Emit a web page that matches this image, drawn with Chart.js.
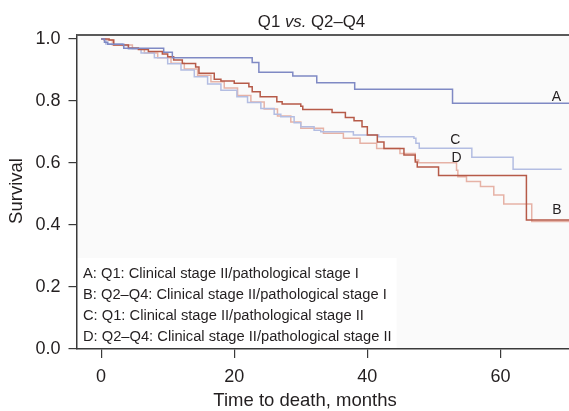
<!DOCTYPE html>
<html lang="en">
<head>
    <meta charset="UTF-8">
    <title>Q1 vs. Q2-Q4 survival</title>
    <script src="https://cdn.jsdelivr.net/npm/chart.js"></script>
    <style>
        body { margin: 0; background: #fff; }
        #wrap { width: 569px; height: 411px; position: relative; }
    </style>
</head>
<body>
    <div id="wrap"><canvas id="kmChart"></canvas></div>
    <script>
        // Kaplan-Meier steps: time (months) and survival after the drop
        const aTime = [0, 0.5, 1, 3.4, 9.4, 10.7, 22.7, 23.7, 28.8, 32.4, 38.1, 52.8, 70.3];
        const aSurv = [1.0, 0.99, 0.983, 0.97, 0.957, 0.94, 0.924, 0.893, 0.881, 0.859, 0.838, 0.793, 0.793];

        const bTime = [0, 1.2, 1.9, 4.1, 5.6, 7.1, 9.2, 10.0, 10.9, 12.2, 14.2, 14.7, 17.0, 18.0, 20.0, 22.2, 22.7, 23.9, 26.4, 27.2, 30.0, 30.3, 34.7, 36.7, 38.0, 39.2, 40.0, 41.5, 42.5, 45.5, 47.2, 47.5, 50.7, 63.9, 70.3];
        const bSurv = [1.0, 0.997, 0.981, 0.971, 0.966, 0.96, 0.952, 0.943, 0.932, 0.921, 0.91, 0.89, 0.87, 0.865, 0.857, 0.846, 0.83, 0.814, 0.798, 0.79, 0.783, 0.773, 0.763, 0.747, 0.736, 0.717, 0.69, 0.668, 0.647, 0.626, 0.603, 0.587, 0.56, 0.416, 0.416];

        const cTime = [0, 0.7, 3.2, 4.1, 6.0, 8.0, 10.0, 12.0, 14.0, 16.0, 18.0, 20.4, 22.0, 24.0, 26.0, 27.0, 29.0, 30.0, 32.0, 33.0, 37.9, 41.7, 47.0, 47.3, 47.8, 55.7, 61.9, 69.2];
        const cSurv = [1.0, 0.984, 0.979, 0.968, 0.955, 0.94, 0.92, 0.9, 0.878, 0.855, 0.835, 0.814, 0.795, 0.776, 0.757, 0.749, 0.73, 0.717, 0.706, 0.701, 0.69, 0.685, 0.68, 0.664, 0.648, 0.619, 0.58, 0.58];

        const dTime = [0, 0.4, 1.7, 4.7, 6.5, 8.5, 10.5, 12.5, 14.5, 16.5, 18.5, 20.5, 22.5, 24.5, 26.5, 28.5, 30.0, 33.4, 36.4, 38.9, 41.4, 44.9, 47.2, 47.7, 53.4, 53.6, 54.9, 57.0, 59.0, 60.5, 64.7, 70.3];
        const dSurv = [1.0, 0.997, 0.981, 0.968, 0.955, 0.94, 0.922, 0.903, 0.883, 0.862, 0.842, 0.818, 0.797, 0.774, 0.752, 0.732, 0.712, 0.696, 0.68, 0.664, 0.647, 0.631, 0.61, 0.601, 0.577, 0.556, 0.54, 0.524, 0.497, 0.468, 0.411, 0.411];

        const curveNames = ['A', 'B', 'C', 'D'];
        const curveColors = ['#7f89c4', '#b65a48', '#b3bde2', '#e6b2a6'];
        const labelTime = [68.4, 68.5, 53.2, 53.4];
        const labelSurv = [0.814, 0.448, 0.674, 0.615];
        const legendLines = [
            'A: Q1: Clinical stage II/pathological stage I',
            'B: Q2\u2013Q4: Clinical stage II/pathological stage I',
            'C: Q1: Clinical stage II/pathological stage II',
            'D: Q2\u2013Q4: Clinical stage II/pathological stage II'
        ];
        const xTicks = [0, 20, 40, 60];
        const yTicks = [0, 0.2, 0.4, 0.6, 0.8, 1.0];

        const FONT = '"Liberation Sans", Arial, Helvetica, sans-serif';
        const INK = '#231f20';
        const AXIS = '#3a3a3a';

        function toPoints(times, surv) {
            return times.map((t, i) => ({ x: t, y: surv[i] }));
        }

        const seriesData = [
            toPoints(aTime, aSurv),
            toPoints(bTime, bSurv),
            toPoints(cTime, cSurv),
            toPoints(dTime, dSurv)
        ];

        const datasets = curveNames.map((name, i) => ({
            label: name,
            data: seriesData[i],
            borderColor: curveColors[i],
            borderWidth: 1.5,
            stepped: true,
            pointRadius: 0,
            fill: false
        }));

        // background, text and the top frame line
        const decor = {
            id: 'decor',
            beforeDraw(chart) {
                const { ctx, chartArea: ca } = chart;
                ctx.save();
                ctx.fillStyle = '#fafafa';
                ctx.fillRect(ca.left, ca.top, ca.right - ca.left, ca.bottom - ca.top);
                ctx.fillStyle = '#ffffff';
                ctx.fillRect(ca.left, 258, 320, ca.bottom - 258);
                ctx.restore();
            },
            afterDraw(chart) {
                const { ctx, chartArea: ca, scales } = chart;
                ctx.save();
                // top frame
                ctx.strokeStyle = '#5a5a5a';
                ctx.lineWidth = 2;
                ctx.beginPath();
                ctx.moveTo(ca.left, ca.top);
                ctx.lineTo(ca.right, ca.top);
                ctx.stroke();

                ctx.fillStyle = INK;
                // curve labels
                ctx.font = '14px ' + FONT;
                ctx.textAlign = 'center';
                ctx.textBaseline = 'middle';
                curveNames.forEach((n, i) => {
                    ctx.fillText(n, scales.x.getPixelForValue(labelTime[i]), scales.y.getPixelForValue(labelSurv[i]));
                });

                // legend text inside the plot
                ctx.font = '14.7px ' + FONT;
                ctx.textAlign = 'left';
                legendLines.forEach((s, i) => ctx.fillText(s, 83, 273.5 + i * 21));

                // title with italic "vs."
                const parts = [['Q1 ', 'normal'], ['vs.', 'italic'], [' Q2\u2013Q4', 'normal']];
                ctx.textBaseline = 'alphabetic';
                let w = 0;
                parts.forEach(p => { ctx.font = p[1] + ' 16.8px ' + FONT; w += ctx.measureText(p[0]).width; });
                let x = 311.5 - w / 2;
                parts.forEach(p => {
                    ctx.font = p[1] + ' 16.8px ' + FONT;
                    ctx.fillText(p[0], x, 26.5);
                    x += ctx.measureText(p[0]).width;
                });

                // axis titles
                ctx.font = '18.5px ' + FONT;
                ctx.textAlign = 'center';
                ctx.textBaseline = 'middle';
                ctx.fillText('Time to death, months', 305, 401);
                ctx.translate(17, 191);
                ctx.rotate(-Math.PI / 2);
                ctx.fillText('Survival', 0, 0);
                ctx.restore();
            }
        };

        const ctx = document.getElementById('kmChart').getContext('2d');
        const chart = new Chart(ctx, {
            type: 'line',
            data: { datasets: datasets },
            options: {
                responsive: true,
                maintainAspectRatio: false,
                animation: false,
                layout: { padding: { top: 35, right: 0, left: 0, bottom: 0 } },
                plugins: { legend: { display: false }, tooltip: { enabled: false } },
                scales: {
                    x: {
                        type: 'linear',
                        min: -3.7,
                        max: 70.3,
                        afterFit: s => { s.height = 62; },
                        afterBuildTicks: s => { s.ticks = xTicks.map(v => ({ value: v })); },
                        grid: { drawOnChartArea: false, drawTicks: true, tickLength: 9, color: AXIS, lineWidth: 1.2 },
                        border: { display: true, color: AXIS, width: 1.5 },
                        ticks: { color: INK, font: { family: FONT, size: 18 }, padding: 8, maxRotation: 0 }
                    },
                    y: {
                        min: 0,
                        max: 1.013,
                        afterFit: s => { s.width = 76.5; },
                        afterBuildTicks: s => { s.ticks = yTicks.map(v => ({ value: v })); },
                        grid: { drawOnChartArea: false, drawTicks: true, tickLength: 8, color: AXIS, lineWidth: 1.2 },
                        border: { display: true, color: AXIS, width: 1.5 },
                        ticks: {
                            color: INK,
                            font: { family: FONT, size: 18 },
                            padding: 8,
                            callback: v => v.toFixed(1)
                        }
                    }
                }
            },
            plugins: [decor]
        });
    </script>
</body>
</html>
